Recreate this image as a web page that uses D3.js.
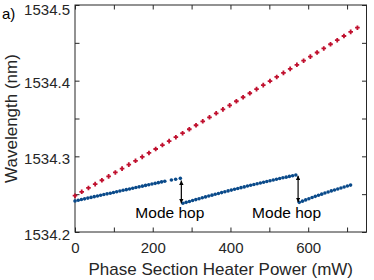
<!DOCTYPE html>
<meta charset="utf-8">
<style>
  body { margin: 0; background: #fff; }
  svg { display: block; font-family: "Liberation Sans", Arial, Helvetica, sans-serif; }
</style>
<svg></svg>
<script src="https://cdn.jsdelivr.net/npm/d3@7/dist/d3.min.js"></script>
<script>

var width = 374,
    height = 280,
    svg = d3.select("svg").attr("width", width).attr("height", height);

// red: wavelength vs heater power, tracked without mode hops
var redPower = [0, 17.3, 34.6, 51.9, 69.2, 86.5, 103.8, 121.1, 138.4, 155.7, 173, 190.3, 207.6, 224.9,
  242.2, 259.5, 276.8, 294.1, 311.4, 328.7, 346, 363.3, 380.6, 397.9, 415.2, 432.5, 449.8, 467.1,
  484.4, 501.7, 519, 536.3, 553.6, 570.9, 588.2, 605.5, 622.8, 640.1, 657.4, 674.7, 692, 709.3, 726.6];
var redWl = [1534.2480, 1534.2531, 1534.2582, 1534.2633, 1534.2684, 1534.2735, 1534.2787, 1534.2838,
  1534.2890, 1534.2941, 1534.2993, 1534.3045, 1534.3097, 1534.3149, 1534.3201, 1534.3253, 1534.3306,
  1534.3358, 1534.3411, 1534.3463, 1534.3516, 1534.3569, 1534.3621, 1534.3674, 1534.3728, 1534.3781,
  1534.3834, 1534.3888, 1534.3941, 1534.3995, 1534.4049, 1534.4103, 1534.4156, 1534.4210, 1534.4264,
  1534.4318, 1534.4372, 1534.4426, 1534.4481, 1534.4535, 1534.4590, 1534.4645, 1534.4700];

// blue: measured, three modes
var mode1Power = [0, 8.25, 16.5, 24.75, 33, 41.25, 49.5, 57.75, 66, 74.25, 82.5, 90.75, 99, 107.25,
  115.5, 123.75, 132, 140.25, 148.5, 156.75, 165, 173.25, 181.5, 189.75, 198, 206.25, 214.5, 222.75,
  231, 248, 259, 271];
var mode1Wl = [1534.2410, 1534.2419, 1534.2429, 1534.2438, 1534.2448, 1534.2457, 1534.2467, 1534.2476,
  1534.2485, 1534.2495, 1534.2504, 1534.2513, 1534.2523, 1534.2532, 1534.2542, 1534.2551, 1534.2560,
  1534.2569, 1534.2578, 1534.2588, 1534.2597, 1534.2606, 1534.2616, 1534.2625, 1534.2634, 1534.2643,
  1534.2652, 1534.2662, 1534.2671, 1534.2688, 1534.2697, 1534.2709];
var mode2Power = [277.7, 286, 294.3, 302.6, 310.9, 319.2, 327.5, 335.8, 344.1, 352.4, 360.7, 369, 377.3,
  385.6, 393.9, 402.2, 410.5, 418.8, 427.1, 435.4, 443.7, 452, 460.3, 468.6, 476.9, 485.2, 493.5,
  501.8, 510.1, 518.4, 526.7, 535, 543.3, 551.6, 559.9, 568.2];
var mode2Wl = [1534.2380, 1534.2392, 1534.2404, 1534.2416, 1534.2428, 1534.2440, 1534.2452, 1534.2464,
  1534.2475, 1534.2487, 1534.2498, 1534.2509, 1534.2521, 1534.2532, 1534.2543, 1534.2554, 1534.2564,
  1534.2575, 1534.2586, 1534.2596, 1534.2607, 1534.2617, 1534.2628, 1534.2638, 1534.2648, 1534.2658,
  1534.2668, 1534.2678, 1534.2687, 1534.2697, 1534.2707, 1534.2716, 1534.2725, 1534.2735, 1534.2744,
  1534.2753];
var mode3Power = [577, 585.25, 593.5, 601.75, 610, 618.25, 626.5, 634.75, 643, 651.25, 659.5, 667.75,
  676, 684.25, 692.5, 700.75, 709];
var mode3Wl = [1534.2392, 1534.2408, 1534.2424, 1534.2440, 1534.2455, 1534.2471, 1534.2485, 1534.2500,
  1534.2515, 1534.2529, 1534.2543, 1534.2556, 1534.2569, 1534.2582, 1534.2595, 1534.2608, 1534.2620];

// mode hop arrows: power, top, bottom
var hopPower = [273.6, 574];
var hopTop = [1534.268, 1534.2745];
var hopBottom = [1534.238, 1534.2395];
var hopText = "Mode hop";

var xTicks = [0, 100, 200, 300, 400, 500, 600, 700],
    xLabels = [0, 200, 400, 600],
    yTicks = [1534.2, 1534.25, 1534.3, 1534.35, 1534.4, 1534.45, 1534.5],
    yLabels = [1534.2, 1534.3, 1534.4, 1534.5];

var x = d3.scaleLinear().domain([0, 750]).range([75, 366.5]),
    y = d3.scaleLinear().domain([1534.2, 1534.5]).range([232, 5]);

var red = "#c0102e", blue = "#0a4a8a", ink = "#262626";

var toPts = (ps, ws) => ps.map((p, i) => ({p: p, w: ws[i]}));
var redPts = toPts(redPower, redWl),
    bluePts = toPts(mode1Power, mode1Wl)
      .concat(toPts(mode2Power, mode2Wl))
      .concat(toPts(mode3Power, mode3Wl));

// arrow heads
var defs = svg.append("defs");
defs.append("marker")
    .attr("id", "head")
    .attr("viewBox", "0 -5 10 10")
    .attr("refX", 10).attr("refY", 0)
    .attr("markerWidth", 4.5).attr("markerHeight", 4.5)
    .attr("markerUnits", "userSpaceOnUse")
    .attr("orient", "auto-start-reverse")
  .append("path")
    .attr("d", "M0,-5L10,0L0,5Z")
    .attr("fill", "#000");

// axes, ticks pointing inward on all four sides
var fmtX = d => xLabels.indexOf(d) >= 0 ? d : "",
    fmtY = d => yLabels.some(v => Math.abs(v - d) < 1e-6) ? d3.format(".1f")(d) : "";

var gx = svg.append("g").attr("transform", "translate(0,232)")
    .call(d3.axisBottom(x).tickValues(xTicks).tickSize(-4.5).tickPadding(10).tickFormat(fmtX));
var gxt = svg.append("g").attr("transform", "translate(0,5)")
    .call(d3.axisTop(x).tickValues(xTicks).tickSize(-4.5).tickFormat(""));
var gy = svg.append("g").attr("transform", "translate(75,0)")
    .call(d3.axisLeft(y).tickValues(yTicks).tickSize(-4.5).tickPadding(5).tickFormat(fmtY));
var gyr = svg.append("g").attr("transform", "translate(366.5,0)")
    .call(d3.axisRight(y).tickValues(yTicks).tickSize(-4.5).tickFormat(""));

[gx, gxt, gy, gyr].forEach(g => {
  g.select(".domain").remove();
  g.selectAll(".tick line").attr("stroke", ink);
  g.selectAll("text").attr("fill", ink).style("font-size", "15px")
    .attr("font-family", null);
});

// y labels sit a bit low; top one kept inside the frame
gy.selectAll(".tick text")
    .attr("dy", d => d >= 1534.5 - 1e-6 ? "0.66em" : "0.47em");

svg.append("rect")
    .attr("x", 75).attr("y", 5)
    .attr("width", 366.5 - 75).attr("height", 232 - 5)
    .attr("fill", "none").attr("stroke", ink).attr("stroke-width", 1);

// red plus markers
svg.append("g").selectAll("path")
  .data(redPts)
  .enter().append("path")
    .attr("transform", d => "translate(" + x(d.p) + "," + y(d.w) + ")")
    .attr("d", "M-2.3,0H2.3M0,-2.3V2.3")
    .attr("stroke", red)
    .attr("stroke-width", 1.8);

// blue dots
svg.append("g").selectAll("circle")
  .data(bluePts)
  .enter().append("circle")
    .attr("cx", d => x(d.p))
    .attr("cy", d => y(d.w))
    .attr("r", 1.8)
    .attr("fill", blue);

// mode hop arrows + labels
var hops = hopPower.map((p, i) => ({p: p, top: hopTop[i], bottom: hopBottom[i]}));
var hg = svg.append("g");
hg.selectAll("line")
  .data(hops)
  .enter().append("line")
    .attr("x1", d => x(d.p)).attr("x2", d => x(d.p))
    .attr("y1", d => y(d.top)).attr("y2", d => y(d.bottom))
    .attr("stroke", "#000")
    .attr("stroke-width", 1.2)
    .attr("marker-start", "url(#head)")
    .attr("marker-end", "url(#head)");
hg.selectAll("text")
  .data(hops)
  .enter().append("text")
    .attr("x", d => x(d.p) - 11.5)
    .attr("y", y(1534.219))
    .attr("text-anchor", "middle")
    .style("font-size", "15.5px")
    .attr("fill", "#000")
    .text(hopText);

// titles
svg.append("text")
    .attr("x", (75 + 366.5) / 2).attr("y", 275)
    .attr("text-anchor", "middle")
    .style("font-size", "17px")
    .attr("fill", ink)
    .text("Phase Section Heater Power (mW)");

svg.append("text")
    .attr("transform", "translate(17," + (5 + 232) / 2 + ") rotate(-90)")
    .attr("text-anchor", "middle")
    .style("font-size", "17px")
    .attr("fill", ink)
    .text("Wavelength (nm)");

svg.append("text")
    .attr("x", 2).attr("y", 19)
    .style("font-size", "15px")
    .attr("fill", "#000")
    .text("a)");

</script>
